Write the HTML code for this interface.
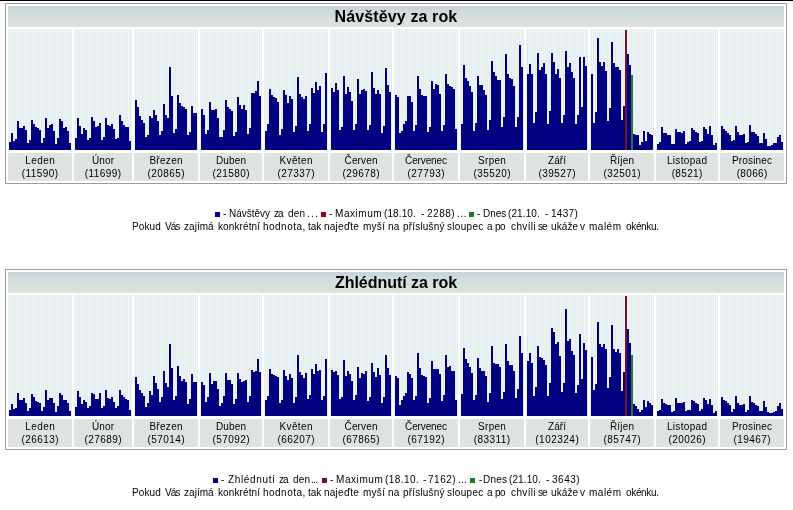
<!DOCTYPE html>
<html><head><meta charset="utf-8"><style>
html,body{margin:0;padding:0;background:#fff;}
body{width:793px;height:510px;overflow:hidden;position:relative;font-family:"Liberation Sans",sans-serif;color:#000;}
.a{position:absolute}
.box{left:5px;width:780px;height:179px;border:1px solid #9a9da0}
.hdr{left:8px;width:776px;height:21px;
 background:linear-gradient(180deg,#cbd2da 0px,#ccd5db 3px,#cedddb 6px,#cfdfdb 9px,#d3dfdc 11px,#d8e0dd 13px,#dde0dc 15px,#dcded9 18px,#dcded9 21px)}
.ttl{will-change:transform;left:8px;width:776px;height:21px;line-height:21px;text-align:center;font-weight:bold;font-size:16px;letter-spacing:0px;text-indent:0px}
.hs{left:8px;width:776px;height:3px;background:repeating-linear-gradient(90deg,#e3e5e1 0 1px,#dadcd7 1px 2px)}
.plot{height:121px;background:repeating-linear-gradient(90deg,#eff5f6 0 1px,#e4ecee 1px 2px)}
.lab{height:28px;background:#dee2e1;text-align:center;font-size:10px;letter-spacing:0.7px;text-indent:0.7px}
.l1{will-change:transform;position:absolute;left:0;right:0;top:1px;line-height:13px}
.l2{will-change:transform;position:absolute;left:0;right:0;top:14px;line-height:13px}
.leg{will-change:transform;font-size:10px;line-height:13px;white-space:nowrap}
.sq{width:5px;height:5px}
</style></head><body>
<div class="a" style="left:0;top:0;width:793px;height:1px;background:#000"></div>
<div class="a box" style="top:3px"></div>
<div class="a hdr" style="top:6px"></div>
<div class="a hs" style="top:24px"></div>
<div class="a ttl" style="top:6px;letter-spacing:0.12px">Návštěvy za rok</div>
<div class="a plot" style="left:8px;top:29px;width:64px"></div>
<div class="a lab" style="left:8px;top:153px;width:64px"><div class="l1" style="letter-spacing:0.45px;text-indent:0.45px">Leden</div><div class="l2" style="letter-spacing:0.45px;text-indent:0.45px">(11590)</div></div>
<div class="a plot" style="left:74px;top:29px;width:58px"></div>
<div class="a lab" style="left:74px;top:153px;width:58px"><div class="l1" style="letter-spacing:0.1px;text-indent:0.1px">Únor</div><div class="l2" style="letter-spacing:0.45px;text-indent:0.45px">(11699)</div></div>
<div class="a plot" style="left:134px;top:29px;width:64px"></div>
<div class="a lab" style="left:134px;top:153px;width:64px"><div class="l1" style="letter-spacing:0.3px;text-indent:0.3px">Březen</div><div class="l2" style="letter-spacing:0.45px;text-indent:0.45px">(20865)</div></div>
<div class="a plot" style="left:200px;top:29px;width:62px"></div>
<div class="a lab" style="left:200px;top:153px;width:62px"><div class="l1" style="letter-spacing:0.15px;text-indent:0.15px">Duben</div><div class="l2" style="letter-spacing:0.45px;text-indent:0.45px">(21580)</div></div>
<div class="a plot" style="left:264px;top:29px;width:64px"></div>
<div class="a lab" style="left:264px;top:153px;width:64px"><div class="l1" style="letter-spacing:0.42px;text-indent:0.42px">Květen</div><div class="l2" style="letter-spacing:0.45px;text-indent:0.45px">(27337)</div></div>
<div class="a plot" style="left:330px;top:29px;width:62px"></div>
<div class="a lab" style="left:330px;top:153px;width:62px"><div class="l1" style="letter-spacing:0.14px;text-indent:0.14px">Červen</div><div class="l2" style="letter-spacing:0.45px;text-indent:0.45px">(29678)</div></div>
<div class="a plot" style="left:394px;top:29px;width:64px"></div>
<div class="a lab" style="left:394px;top:153px;width:64px"><div class="l1" style="letter-spacing:-0.13px;text-indent:-0.13px">Červenec</div><div class="l2" style="letter-spacing:0.45px;text-indent:0.45px">(27793)</div></div>
<div class="a plot" style="left:460px;top:29px;width:64px"></div>
<div class="a lab" style="left:460px;top:153px;width:64px"><div class="l1" style="letter-spacing:0.3px;text-indent:0.3px">Srpen</div><div class="l2" style="letter-spacing:0.45px;text-indent:0.45px">(35520)</div></div>
<div class="a plot" style="left:526px;top:29px;width:62px"></div>
<div class="a lab" style="left:526px;top:153px;width:62px"><div class="l1" style="letter-spacing:0.03px;text-indent:0.03px">Září</div><div class="l2" style="letter-spacing:0.45px;text-indent:0.45px">(39527)</div></div>
<div class="a plot" style="left:590px;top:29px;width:64px"></div>
<div class="a lab" style="left:590px;top:153px;width:64px"><div class="l1" style="letter-spacing:0.2px;text-indent:0.2px">Říjen</div><div class="l2" style="letter-spacing:0.45px;text-indent:0.45px">(32501)</div></div>
<div class="a plot" style="left:656px;top:29px;width:62px"></div>
<div class="a lab" style="left:656px;top:153px;width:62px"><div class="l1" style="letter-spacing:0.34px;text-indent:0.34px">Listopad</div><div class="l2" style="letter-spacing:0.35px;text-indent:0.35px">(8521)</div></div>
<div class="a plot" style="left:720px;top:29px;width:64px"></div>
<div class="a lab" style="left:720px;top:153px;width:64px"><div class="l1" style="letter-spacing:0.17px;text-indent:0.17px">Prosinec</div><div class="l2" style="letter-spacing:0.35px;text-indent:0.35px">(8066)</div></div>
<svg class="a" style="left:0;top:0" width="793" height="510" shape-rendering="crispEdges"><path d="M9 142h2v8h-2zM11 133h2v17h-2zM13 141h2v9h-2zM15 139h2v11h-2zM17 121h2v29h-2zM19 128h2v22h-2zM21 128h2v22h-2zM23 126h2v24h-2zM25 130h2v20h-2zM27 143h2v7h-2zM29 140h2v10h-2zM31 120h2v30h-2zM33 124h2v26h-2zM35 127h2v23h-2zM37 128h2v22h-2zM39 130h2v20h-2zM41 143h2v7h-2zM43 138h2v12h-2zM45 118h2v32h-2zM47 128h2v22h-2zM49 125h2v25h-2zM51 124h2v26h-2zM53 131h2v19h-2zM55 144h2v6h-2zM57 138h2v12h-2zM59 119h2v31h-2zM61 121h2v29h-2zM63 128h2v22h-2zM65 127h2v23h-2zM67 131h2v19h-2zM69 143h2v7h-2zM75 138h2v12h-2zM77 118h2v32h-2zM79 126h2v24h-2zM81 134h2v16h-2zM83 128h2v22h-2zM85 130h2v20h-2zM87 140h2v10h-2zM89 138h2v12h-2zM91 117h2v33h-2zM93 121h2v29h-2zM95 127h2v23h-2zM97 126h2v24h-2zM99 123h2v27h-2zM101 140h2v10h-2zM103 137h2v13h-2zM105 118h2v32h-2zM107 125h2v25h-2zM109 126h2v24h-2zM111 124h2v26h-2zM113 129h2v21h-2zM115 139h2v11h-2zM117 138h2v12h-2zM119 115h2v35h-2zM121 121h2v29h-2zM123 125h2v25h-2zM125 127h2v23h-2zM127 127h2v23h-2zM129 141h2v9h-2zM135 100h2v50h-2zM137 107h2v43h-2zM139 116h2v34h-2zM141 120h2v30h-2zM143 123h2v27h-2zM145 137h2v13h-2zM147 135h2v15h-2zM149 116h2v34h-2zM151 118h2v32h-2zM153 110h2v40h-2zM155 115h2v35h-2zM157 121h2v29h-2zM159 135h2v15h-2zM161 131h2v19h-2zM163 104h2v46h-2zM165 115h2v35h-2zM167 118h2v32h-2zM169 67h2v83h-2zM171 96h2v54h-2zM173 133h2v17h-2zM175 129h2v21h-2zM177 95h2v55h-2zM179 103h2v47h-2zM181 106h2v44h-2zM183 107h2v43h-2zM185 109h2v41h-2zM187 135h2v15h-2zM189 132h2v18h-2zM191 106h2v44h-2zM193 113h2v37h-2zM195 113h2v37h-2zM201 109h2v41h-2zM203 115h2v35h-2zM205 134h2v16h-2zM207 130h2v20h-2zM209 102h2v48h-2zM211 110h2v40h-2zM213 110h2v40h-2zM215 109h2v41h-2zM217 118h2v32h-2zM219 137h2v13h-2zM221 137h2v13h-2zM223 130h2v20h-2zM225 100h2v50h-2zM227 107h2v43h-2zM229 109h2v41h-2zM231 111h2v39h-2zM233 136h2v14h-2zM235 132h2v18h-2zM237 97h2v53h-2zM239 105h2v45h-2zM241 109h2v41h-2zM243 105h2v45h-2zM245 110h2v40h-2zM247 134h2v16h-2zM249 128h2v22h-2zM251 93h2v57h-2zM253 93h2v57h-2zM255 91h2v59h-2zM257 81h2v69h-2zM259 96h2v54h-2zM265 131h2v19h-2zM267 124h2v26h-2zM269 89h2v61h-2zM271 95h2v55h-2zM273 97h2v53h-2zM275 98h2v52h-2zM277 102h2v48h-2zM279 135h2v15h-2zM281 129h2v21h-2zM283 90h2v60h-2zM285 95h2v55h-2zM287 103h2v47h-2zM289 96h2v54h-2zM291 99h2v51h-2zM293 132h2v18h-2zM295 126h2v24h-2zM297 77h2v73h-2zM299 94h2v56h-2zM301 97h2v53h-2zM303 99h2v51h-2zM305 96h2v54h-2zM307 131h2v19h-2zM309 124h2v26h-2zM311 88h2v62h-2zM313 93h2v57h-2zM315 82h2v68h-2zM317 90h2v60h-2zM319 86h2v64h-2zM321 132h2v18h-2zM323 124h2v26h-2zM325 73h2v77h-2zM331 88h2v62h-2zM333 92h2v58h-2zM335 83h2v67h-2zM337 90h2v60h-2zM339 130h2v20h-2zM341 127h2v23h-2zM343 76h2v74h-2zM345 94h2v56h-2zM347 87h2v63h-2zM349 92h2v58h-2zM351 101h2v49h-2zM353 130h2v20h-2zM355 124h2v26h-2zM357 79h2v71h-2zM359 94h2v56h-2zM361 90h2v60h-2zM363 89h2v61h-2zM365 91h2v59h-2zM367 130h2v20h-2zM369 125h2v25h-2zM371 72h2v78h-2zM373 88h2v62h-2zM375 94h2v56h-2zM377 90h2v60h-2zM379 94h2v56h-2zM381 133h2v17h-2zM383 126h2v24h-2zM385 68h2v82h-2zM387 85h2v65h-2zM389 92h2v58h-2zM395 95h2v55h-2zM397 97h2v53h-2zM399 133h2v17h-2zM401 131h2v19h-2zM403 124h2v26h-2zM405 121h2v29h-2zM407 96h2v54h-2zM409 96h2v54h-2zM411 102h2v48h-2zM413 131h2v19h-2zM415 125h2v25h-2zM417 76h2v74h-2zM419 89h2v61h-2zM421 95h2v55h-2zM423 96h2v54h-2zM425 96h2v54h-2zM427 132h2v18h-2zM429 127h2v23h-2zM431 81h2v69h-2zM433 89h2v61h-2zM435 84h2v66h-2zM437 85h2v65h-2zM439 94h2v56h-2zM441 131h2v19h-2zM443 125h2v25h-2zM445 74h2v76h-2zM447 84h2v66h-2zM449 86h2v64h-2zM451 87h2v63h-2zM453 89h2v61h-2zM455 129h2v21h-2zM461 124h2v26h-2zM463 65h2v85h-2zM465 78h2v72h-2zM467 81h2v69h-2zM469 86h2v64h-2zM471 92h2v58h-2zM473 131h2v19h-2zM475 123h2v27h-2zM477 76h2v74h-2zM479 85h2v65h-2zM481 85h2v65h-2zM483 90h2v60h-2zM485 95h2v55h-2zM487 130h2v20h-2zM489 120h2v30h-2zM491 61h2v89h-2zM493 72h2v78h-2zM495 76h2v74h-2zM497 80h2v70h-2zM499 80h2v70h-2zM501 127h2v23h-2zM503 117h2v33h-2zM505 54h2v96h-2zM507 74h2v76h-2zM509 78h2v72h-2zM511 79h2v71h-2zM513 86h2v64h-2zM515 127h2v23h-2zM517 117h2v33h-2zM519 45h2v105h-2zM521 67h2v83h-2zM527 74h2v76h-2zM529 64h2v86h-2zM531 74h2v76h-2zM533 123h2v27h-2zM535 112h2v38h-2zM537 53h2v97h-2zM539 70h2v80h-2zM541 67h2v83h-2zM543 63h2v87h-2zM545 74h2v76h-2zM547 124h2v26h-2zM549 111h2v39h-2zM551 53h2v97h-2zM553 62h2v88h-2zM555 74h2v76h-2zM557 69h2v81h-2zM559 78h2v72h-2zM561 123h2v27h-2zM563 115h2v35h-2zM565 51h2v99h-2zM567 67h2v83h-2zM569 63h2v87h-2zM571 72h2v78h-2zM573 78h2v72h-2zM575 124h2v26h-2zM577 115h2v35h-2zM579 57h2v93h-2zM581 107h2v43h-2zM583 57h2v93h-2zM585 66h2v84h-2zM591 74h2v76h-2zM593 123h2v27h-2zM595 112h2v38h-2zM597 38h2v112h-2zM599 62h2v88h-2zM601 66h2v84h-2zM603 62h2v88h-2zM605 71h2v79h-2zM607 121h2v29h-2zM609 108h2v42h-2zM611 42h2v108h-2zM613 63h2v87h-2zM615 67h2v83h-2zM617 67h2v83h-2zM619 70h2v80h-2zM621 120h2v30h-2zM623 106h2v44h-2zM627 54h2v96h-2zM629 65h2v85h-2zM633 134h2v16h-2zM635 135h2v15h-2zM637 135h2v15h-2zM639 145h2v5h-2zM641 142h2v8h-2zM643 131h2v19h-2zM645 141h2v9h-2zM647 132h2v18h-2zM649 134h2v16h-2zM651 135h2v15h-2zM657 144h2v6h-2zM659 142h2v8h-2zM661 127h2v23h-2zM663 133h2v17h-2zM665 133h2v17h-2zM667 135h2v15h-2zM669 135h2v15h-2zM671 144h2v6h-2zM673 144h2v6h-2zM675 129h2v21h-2zM677 132h2v18h-2zM679 132h2v18h-2zM681 133h2v17h-2zM683 131h2v19h-2zM685 144h2v6h-2zM687 142h2v8h-2zM689 141h2v9h-2zM691 128h2v22h-2zM693 130h2v20h-2zM695 132h2v18h-2zM697 133h2v17h-2zM699 142h2v8h-2zM701 141h2v9h-2zM703 127h2v23h-2zM705 129h2v21h-2zM707 134h2v16h-2zM709 126h2v24h-2zM711 135h2v15h-2zM713 145h2v5h-2zM715 143h2v7h-2zM721 126h2v24h-2zM723 129h2v21h-2zM725 131h2v19h-2zM727 133h2v17h-2zM729 135h2v15h-2zM731 141h2v9h-2zM733 140h2v10h-2zM735 126h2v24h-2zM737 132h2v18h-2zM739 135h2v15h-2zM741 135h2v15h-2zM743 134h2v16h-2zM745 143h2v7h-2zM747 142h2v8h-2zM749 125h2v25h-2zM751 132h2v18h-2zM753 132h2v18h-2zM755 134h2v16h-2zM757 136h2v14h-2zM759 143h2v7h-2zM761 143h2v7h-2zM763 133h2v17h-2zM765 139h2v11h-2zM767 146h2v4h-2zM769 146h2v4h-2zM771 145h2v5h-2zM773 143h2v7h-2zM775 143h2v7h-2zM777 137h2v13h-2zM779 135h2v15h-2zM781 142h2v8h-2z" fill="#000080"/><rect x="625" y="30" width="2" height="120" fill="#701228"/><rect x="631" y="75" width="2" height="75" fill="#217a3a"/></svg>
<div class="a sq" style="left:215px;top:212px;background:#000080"></div>
<div class="a sq" style="left:321px;top:212px;background:#880a18"></div>
<div class="a sq" style="left:469px;top:212px;background:#1a7a28"></div>
<div class="a leg" style="left:223.45px;top:207px;letter-spacing:0.000px">-</div>
<div class="a leg" style="left:229.05px;top:207px;letter-spacing:0.000px">Návštěvy</div>
<div class="a leg" style="left:273.85px;top:207px;letter-spacing:-0.900px">za</div>
<div class="a leg" style="left:287.75px;top:207px;letter-spacing:0.200px">den</div>
<div class="a leg" style="left:306.85px;top:207px;letter-spacing:1.250px">...</div>
<div class="a leg" style="left:329.25px;top:207px;letter-spacing:0.000px">-</div>
<div class="a leg" style="left:335.25px;top:207px;letter-spacing:0.550px">Maximum</div>
<div class="a leg" style="left:383.75px;top:207px;letter-spacing:0.100px">(18.10.</div>
<div class="a leg" style="left:421.25px;top:207px;letter-spacing:0.000px">-</div>
<div class="a leg" style="left:426.95px;top:207px;letter-spacing:0.525px">2288)</div>
<div class="a leg" style="left:456.85px;top:207px;letter-spacing:0.600px">...</div>
<div class="a leg" style="left:477.25px;top:207px;letter-spacing:0.000px">-</div>
<div class="a leg" style="left:483.15px;top:207px;letter-spacing:-0.033px">Dnes</div>
<div class="a leg" style="left:508.15px;top:207px;letter-spacing:0.100px">(21.10.</div>
<div class="a leg" style="left:545.15px;top:207px;letter-spacing:0.000px">-</div>
<div class="a leg" style="left:551.05px;top:207px;letter-spacing:0.300px">1437)</div>
<div class="a leg" style="left:132.15px;top:220px;letter-spacing:0.100px">Pokud</div>
<div class="a leg" style="left:165.15px;top:220px;letter-spacing:-0.950px">Vás</div>
<div class="a leg" style="left:184.05px;top:220px;letter-spacing:0.040px">zajímá</div>
<div class="a leg" style="left:217.75px;top:220px;letter-spacing:0.112px">konkrétní</div>
<div class="a leg" style="left:263.05px;top:220px;letter-spacing:0.471px">hodnota,</div>
<div class="a leg" style="left:308.35px;top:220px;letter-spacing:-0.050px">tak</div>
<div class="a leg" style="left:324.15px;top:220px;letter-spacing:0.250px">najeďte</div>
<div class="a leg" style="left:363.05px;top:220px;letter-spacing:0.267px">myší</div>
<div class="a leg" style="left:388.25px;top:220px;letter-spacing:0.100px">na</div>
<div class="a leg" style="left:402.75px;top:220px;letter-spacing:0.188px">příslušný</div>
<div class="a leg" style="left:447.25px;top:220px;letter-spacing:0.300px">sloupec</div>
<div class="a leg" style="left:486.85px;top:220px;letter-spacing:0.000px">a</div>
<div class="a leg" style="left:495.25px;top:220px;letter-spacing:-0.500px">po</div>
<div class="a leg" style="left:510.85px;top:220px;letter-spacing:0.380px">chvíli</div>
<div class="a leg" style="left:538.45px;top:220px;letter-spacing:-0.900px">se</div>
<div class="a leg" style="left:550.65px;top:220px;letter-spacing:0.100px">ukáže</div>
<div class="a leg" style="left:580.25px;top:220px;letter-spacing:0.000px">v</div>
<div class="a leg" style="left:589.25px;top:220px;letter-spacing:0.500px">malém</div>
<div class="a leg" style="left:626.25px;top:220px;letter-spacing:-0.333px">okénku.</div>
<div class="a box" style="top:269px"></div>
<div class="a hdr" style="top:272px"></div>
<div class="a hs" style="top:290px"></div>
<div class="a ttl" style="top:272px;letter-spacing:-0.03px">Zhlédnutí za rok</div>
<div class="a plot" style="left:8px;top:295px;width:64px"></div>
<div class="a lab" style="left:8px;top:419px;width:64px"><div class="l1" style="letter-spacing:0.45px;text-indent:0.45px">Leden</div><div class="l2" style="letter-spacing:0.45px;text-indent:0.45px">(26613)</div></div>
<div class="a plot" style="left:74px;top:295px;width:58px"></div>
<div class="a lab" style="left:74px;top:419px;width:58px"><div class="l1" style="letter-spacing:0.1px;text-indent:0.1px">Únor</div><div class="l2" style="letter-spacing:0.45px;text-indent:0.45px">(27689)</div></div>
<div class="a plot" style="left:134px;top:295px;width:64px"></div>
<div class="a lab" style="left:134px;top:419px;width:64px"><div class="l1" style="letter-spacing:0.3px;text-indent:0.3px">Březen</div><div class="l2" style="letter-spacing:0.45px;text-indent:0.45px">(57014)</div></div>
<div class="a plot" style="left:200px;top:295px;width:62px"></div>
<div class="a lab" style="left:200px;top:419px;width:62px"><div class="l1" style="letter-spacing:0.15px;text-indent:0.15px">Duben</div><div class="l2" style="letter-spacing:0.45px;text-indent:0.45px">(57092)</div></div>
<div class="a plot" style="left:264px;top:295px;width:64px"></div>
<div class="a lab" style="left:264px;top:419px;width:64px"><div class="l1" style="letter-spacing:0.42px;text-indent:0.42px">Květen</div><div class="l2" style="letter-spacing:0.45px;text-indent:0.45px">(66207)</div></div>
<div class="a plot" style="left:330px;top:295px;width:62px"></div>
<div class="a lab" style="left:330px;top:419px;width:62px"><div class="l1" style="letter-spacing:0.14px;text-indent:0.14px">Červen</div><div class="l2" style="letter-spacing:0.45px;text-indent:0.45px">(67865)</div></div>
<div class="a plot" style="left:394px;top:295px;width:64px"></div>
<div class="a lab" style="left:394px;top:419px;width:64px"><div class="l1" style="letter-spacing:-0.13px;text-indent:-0.13px">Červenec</div><div class="l2" style="letter-spacing:0.45px;text-indent:0.45px">(67192)</div></div>
<div class="a plot" style="left:460px;top:295px;width:64px"></div>
<div class="a lab" style="left:460px;top:419px;width:64px"><div class="l1" style="letter-spacing:0.3px;text-indent:0.3px">Srpen</div><div class="l2" style="letter-spacing:0.45px;text-indent:0.45px">(83311)</div></div>
<div class="a plot" style="left:526px;top:295px;width:62px"></div>
<div class="a lab" style="left:526px;top:419px;width:62px"><div class="l1" style="letter-spacing:0.03px;text-indent:0.03px">Září</div><div class="l2" style="letter-spacing:0.5px;text-indent:0.5px">(102324)</div></div>
<div class="a plot" style="left:590px;top:295px;width:64px"></div>
<div class="a lab" style="left:590px;top:419px;width:64px"><div class="l1" style="letter-spacing:0.2px;text-indent:0.2px">Říjen</div><div class="l2" style="letter-spacing:0.45px;text-indent:0.45px">(85747)</div></div>
<div class="a plot" style="left:656px;top:295px;width:62px"></div>
<div class="a lab" style="left:656px;top:419px;width:62px"><div class="l1" style="letter-spacing:0.34px;text-indent:0.34px">Listopad</div><div class="l2" style="letter-spacing:0.45px;text-indent:0.45px">(20026)</div></div>
<div class="a plot" style="left:720px;top:295px;width:64px"></div>
<div class="a lab" style="left:720px;top:419px;width:64px"><div class="l1" style="letter-spacing:0.17px;text-indent:0.17px">Prosinec</div><div class="l2" style="letter-spacing:0.45px;text-indent:0.45px">(19467)</div></div>
<svg class="a" style="left:0;top:0" width="793" height="510" shape-rendering="crispEdges"><path d="M9 410h2v6h-2zM11 404h2v12h-2zM13 409h2v7h-2zM15 408h2v8h-2zM17 393h2v23h-2zM19 400h2v16h-2zM21 400h2v16h-2zM23 398h2v18h-2zM25 403h2v13h-2zM27 411h2v5h-2zM29 408h2v8h-2zM31 394h2v22h-2zM33 397h2v19h-2zM35 401h2v15h-2zM37 402h2v14h-2zM39 403h2v13h-2zM41 411h2v5h-2zM43 407h2v9h-2zM45 390h2v26h-2zM47 400h2v16h-2zM49 398h2v18h-2zM51 398h2v18h-2zM53 403h2v13h-2zM55 412h2v4h-2zM57 406h2v10h-2zM59 393h2v23h-2zM61 395h2v21h-2zM63 400h2v16h-2zM65 400h2v16h-2zM67 403h2v13h-2zM69 411h2v5h-2zM75 407h2v9h-2zM77 391h2v25h-2zM79 397h2v19h-2zM81 404h2v12h-2zM83 400h2v16h-2zM85 402h2v14h-2zM87 408h2v8h-2zM89 406h2v10h-2zM91 393h2v23h-2zM93 394h2v22h-2zM95 399h2v17h-2zM97 399h2v17h-2zM99 393h2v23h-2zM101 408h2v8h-2zM103 406h2v10h-2zM105 390h2v26h-2zM107 398h2v18h-2zM109 399h2v17h-2zM111 397h2v19h-2zM113 402h2v14h-2zM115 408h2v8h-2zM117 406h2v10h-2zM119 390h2v26h-2zM121 395h2v21h-2zM123 397h2v19h-2zM125 399h2v17h-2zM127 400h2v16h-2zM129 410h2v6h-2zM135 377h2v39h-2zM137 384h2v32h-2zM139 390h2v26h-2zM141 393h2v23h-2zM143 396h2v20h-2zM145 407h2v9h-2zM147 403h2v13h-2zM149 391h2v25h-2zM151 395h2v21h-2zM153 376h2v40h-2zM155 383h2v33h-2zM157 389h2v27h-2zM159 402h2v14h-2zM161 397h2v19h-2zM163 371h2v45h-2zM165 383h2v33h-2zM167 387h2v29h-2zM169 344h2v72h-2zM171 368h2v48h-2zM173 400h2v16h-2zM175 396h2v20h-2zM177 366h2v50h-2zM179 376h2v40h-2zM181 381h2v35h-2zM183 379h2v37h-2zM185 382h2v34h-2zM187 404h2v12h-2zM189 399h2v17h-2zM191 374h2v42h-2zM193 382h2v34h-2zM195 382h2v34h-2zM201 382h2v34h-2zM203 385h2v31h-2zM205 402h2v14h-2zM207 397h2v19h-2zM209 373h2v43h-2zM211 384h2v32h-2zM213 381h2v35h-2zM215 381h2v35h-2zM217 389h2v27h-2zM219 406h2v10h-2zM221 403h2v13h-2zM223 396h2v20h-2zM225 373h2v43h-2zM227 380h2v36h-2zM229 380h2v36h-2zM231 384h2v32h-2zM233 404h2v12h-2zM235 399h2v17h-2zM237 373h2v43h-2zM239 379h2v37h-2zM241 382h2v34h-2zM243 381h2v35h-2zM245 380h2v36h-2zM247 402h2v14h-2zM249 396h2v20h-2zM251 370h2v46h-2zM253 372h2v44h-2zM255 371h2v45h-2zM257 359h2v57h-2zM259 372h2v44h-2zM265 400h2v16h-2zM267 396h2v20h-2zM269 369h2v47h-2zM271 374h2v42h-2zM273 375h2v41h-2zM275 376h2v40h-2zM277 377h2v39h-2zM279 403h2v13h-2zM281 400h2v16h-2zM283 370h2v46h-2zM285 376h2v40h-2zM287 380h2v36h-2zM289 374h2v42h-2zM291 378h2v38h-2zM293 403h2v13h-2zM295 397h2v19h-2zM297 355h2v61h-2zM299 372h2v44h-2zM301 375h2v41h-2zM303 378h2v38h-2zM305 373h2v43h-2zM307 399h2v17h-2zM309 395h2v21h-2zM311 369h2v47h-2zM313 374h2v42h-2zM315 364h2v52h-2zM317 371h2v45h-2zM319 370h2v46h-2zM321 400h2v16h-2zM323 396h2v20h-2zM325 359h2v57h-2zM331 370h2v46h-2zM333 372h2v44h-2zM335 371h2v45h-2zM337 375h2v41h-2zM339 399h2v17h-2zM341 397h2v19h-2zM343 360h2v56h-2zM345 376h2v40h-2zM347 371h2v45h-2zM349 374h2v42h-2zM351 381h2v35h-2zM353 400h2v16h-2zM355 395h2v21h-2zM357 367h2v49h-2zM359 378h2v38h-2zM361 373h2v43h-2zM363 374h2v42h-2zM365 371h2v45h-2zM367 401h2v15h-2zM369 397h2v19h-2zM371 363h2v53h-2zM373 372h2v44h-2zM375 377h2v39h-2zM377 368h2v48h-2zM379 375h2v41h-2zM381 403h2v13h-2zM383 397h2v19h-2zM385 355h2v61h-2zM387 368h2v48h-2zM389 375h2v41h-2zM395 376h2v40h-2zM397 378h2v38h-2zM399 405h2v11h-2zM401 400h2v16h-2zM403 396h2v20h-2zM405 393h2v23h-2zM407 372h2v44h-2zM409 374h2v42h-2zM411 378h2v38h-2zM413 400h2v16h-2zM415 396h2v20h-2zM417 353h2v63h-2zM419 368h2v48h-2zM421 375h2v41h-2zM423 376h2v40h-2zM425 377h2v39h-2zM427 403h2v13h-2zM429 398h2v18h-2zM431 361h2v55h-2zM433 369h2v47h-2zM435 369h2v47h-2zM437 369h2v47h-2zM439 374h2v42h-2zM441 401h2v15h-2zM443 395h2v21h-2zM445 355h2v61h-2zM447 367h2v49h-2zM449 366h2v50h-2zM451 371h2v45h-2zM453 371h2v45h-2zM455 400h2v16h-2zM461 394h2v22h-2zM463 348h2v68h-2zM465 359h2v57h-2zM467 363h2v53h-2zM469 367h2v49h-2zM471 373h2v43h-2zM473 400h2v16h-2zM475 395h2v21h-2zM477 358h2v58h-2zM479 368h2v48h-2zM481 371h2v45h-2zM483 371h2v45h-2zM485 376h2v40h-2zM487 402h2v14h-2zM489 393h2v23h-2zM491 346h2v70h-2zM493 363h2v53h-2zM495 364h2v52h-2zM497 364h2v52h-2zM499 367h2v49h-2zM501 399h2v17h-2zM503 392h2v24h-2zM505 344h2v72h-2zM507 361h2v55h-2zM509 365h2v51h-2zM511 365h2v51h-2zM513 371h2v45h-2zM515 398h2v18h-2zM517 389h2v27h-2zM519 336h2v80h-2zM521 353h2v63h-2zM527 361h2v55h-2zM529 353h2v63h-2zM531 363h2v53h-2zM533 396h2v20h-2zM535 387h2v29h-2zM537 346h2v70h-2zM539 357h2v59h-2zM541 358h2v58h-2zM543 360h2v56h-2zM545 365h2v51h-2zM547 396h2v20h-2zM549 383h2v33h-2zM551 328h2v88h-2zM553 332h2v84h-2zM555 344h2v72h-2zM557 342h2v74h-2zM559 356h2v60h-2zM561 392h2v24h-2zM563 383h2v33h-2zM565 309h2v107h-2zM567 341h2v75h-2zM569 339h2v77h-2zM571 351h2v65h-2zM573 355h2v61h-2zM575 393h2v23h-2zM577 385h2v31h-2zM579 334h2v82h-2zM581 379h2v37h-2zM583 343h2v73h-2zM585 350h2v66h-2zM591 357h2v59h-2zM593 390h2v26h-2zM595 384h2v32h-2zM597 322h2v94h-2zM599 344h2v72h-2zM601 347h2v69h-2zM603 344h2v72h-2zM605 349h2v67h-2zM607 388h2v28h-2zM609 377h2v39h-2zM611 325h2v91h-2zM613 349h2v67h-2zM615 352h2v64h-2zM617 349h2v67h-2zM619 353h2v63h-2zM621 391h2v25h-2zM623 372h2v44h-2zM627 329h2v87h-2zM629 343h2v73h-2zM633 404h2v12h-2zM635 406h2v10h-2zM637 409h2v7h-2zM639 412h2v4h-2zM641 410h2v6h-2zM643 400h2v16h-2zM645 407h2v9h-2zM647 401h2v15h-2zM649 403h2v13h-2zM651 405h2v11h-2zM657 411h2v5h-2zM659 410h2v6h-2zM661 399h2v17h-2zM663 403h2v13h-2zM665 404h2v12h-2zM667 405h2v11h-2zM669 405h2v11h-2zM671 412h2v4h-2zM673 411h2v5h-2zM675 398h2v18h-2zM677 403h2v13h-2zM679 403h2v13h-2zM681 403h2v13h-2zM683 402h2v14h-2zM685 411h2v5h-2zM687 410h2v6h-2zM689 410h2v6h-2zM691 400h2v16h-2zM693 401h2v15h-2zM695 403h2v13h-2zM697 404h2v12h-2zM699 411h2v5h-2zM701 409h2v7h-2zM703 398h2v18h-2zM705 400h2v16h-2zM707 404h2v12h-2zM709 399h2v17h-2zM711 405h2v11h-2zM713 413h2v3h-2zM715 411h2v5h-2zM721 397h2v19h-2zM723 400h2v16h-2zM725 401h2v15h-2zM727 403h2v13h-2zM729 405h2v11h-2zM731 412h2v4h-2zM733 409h2v7h-2zM735 396h2v20h-2zM737 403h2v13h-2zM739 405h2v11h-2zM741 405h2v11h-2zM743 404h2v12h-2zM745 412h2v4h-2zM747 410h2v6h-2zM749 396h2v20h-2zM751 402h2v14h-2zM753 403h2v13h-2zM755 405h2v11h-2zM757 406h2v10h-2zM759 411h2v5h-2zM761 411h2v5h-2zM763 401h2v15h-2zM765 407h2v9h-2zM767 412h2v4h-2zM769 413h2v3h-2zM771 413h2v3h-2zM773 412h2v4h-2zM775 411h2v5h-2zM777 406h2v10h-2zM779 403h2v13h-2zM781 409h2v7h-2z" fill="#000080"/><rect x="625" y="296" width="2" height="120" fill="#701228"/><rect x="631" y="355" width="2" height="61" fill="#217a3a"/></svg>
<div class="a sq" style="left:213px;top:478px;background:#000080"></div>
<div class="a sq" style="left:322px;top:478px;background:#880a18"></div>
<div class="a sq" style="left:470px;top:478px;background:#1a7a28"></div>
<div class="a leg" style="left:221.45px;top:473px;letter-spacing:0.000px">-</div>
<div class="a leg" style="left:227.75px;top:473px;letter-spacing:0.650px">Zhlédnutí</div>
<div class="a leg" style="left:278.75px;top:473px;letter-spacing:-0.900px">za</div>
<div class="a leg" style="left:292.65px;top:473px;letter-spacing:0.200px">den</div>
<div class="a leg" style="left:311.25px;top:473px;letter-spacing:-0.700px">...</div>
<div class="a leg" style="left:330.25px;top:473px;letter-spacing:0.000px">-</div>
<div class="a leg" style="left:336.15px;top:473px;letter-spacing:0.567px">Maximum</div>
<div class="a leg" style="left:385.35px;top:473px;letter-spacing:0.417px">(18.10.</div>
<div class="a leg" style="left:422.65px;top:473px;letter-spacing:0.000px">-</div>
<div class="a leg" style="left:428.35px;top:473px;letter-spacing:0.525px">7162)</div>
<div class="a leg" style="left:458.25px;top:473px;letter-spacing:0.250px">...</div>
<div class="a leg" style="left:478.55px;top:473px;letter-spacing:0.000px">-</div>
<div class="a leg" style="left:483.45px;top:473px;letter-spacing:0.233px">Dnes</div>
<div class="a leg" style="left:509.35px;top:473px;letter-spacing:0.100px">(21.10.</div>
<div class="a leg" style="left:546.25px;top:473px;letter-spacing:0.000px">-</div>
<div class="a leg" style="left:551.95px;top:473px;letter-spacing:0.525px">3643)</div>
<div class="a leg" style="left:132.15px;top:486px;letter-spacing:0.100px">Pokud</div>
<div class="a leg" style="left:165.15px;top:486px;letter-spacing:-0.950px">Vás</div>
<div class="a leg" style="left:184.05px;top:486px;letter-spacing:0.040px">zajímá</div>
<div class="a leg" style="left:217.75px;top:486px;letter-spacing:0.112px">konkrétní</div>
<div class="a leg" style="left:263.05px;top:486px;letter-spacing:0.471px">hodnota,</div>
<div class="a leg" style="left:308.35px;top:486px;letter-spacing:-0.050px">tak</div>
<div class="a leg" style="left:324.15px;top:486px;letter-spacing:0.250px">najeďte</div>
<div class="a leg" style="left:363.05px;top:486px;letter-spacing:0.267px">myší</div>
<div class="a leg" style="left:388.25px;top:486px;letter-spacing:0.100px">na</div>
<div class="a leg" style="left:402.75px;top:486px;letter-spacing:0.188px">příslušný</div>
<div class="a leg" style="left:447.25px;top:486px;letter-spacing:0.300px">sloupec</div>
<div class="a leg" style="left:486.85px;top:486px;letter-spacing:0.000px">a</div>
<div class="a leg" style="left:495.25px;top:486px;letter-spacing:-0.500px">po</div>
<div class="a leg" style="left:510.85px;top:486px;letter-spacing:0.380px">chvíli</div>
<div class="a leg" style="left:538.45px;top:486px;letter-spacing:-0.900px">se</div>
<div class="a leg" style="left:550.65px;top:486px;letter-spacing:0.100px">ukáže</div>
<div class="a leg" style="left:580.25px;top:486px;letter-spacing:0.000px">v</div>
<div class="a leg" style="left:589.25px;top:486px;letter-spacing:0.500px">malém</div>
<div class="a leg" style="left:626.25px;top:486px;letter-spacing:-0.333px">okénku.</div>
</body></html>
